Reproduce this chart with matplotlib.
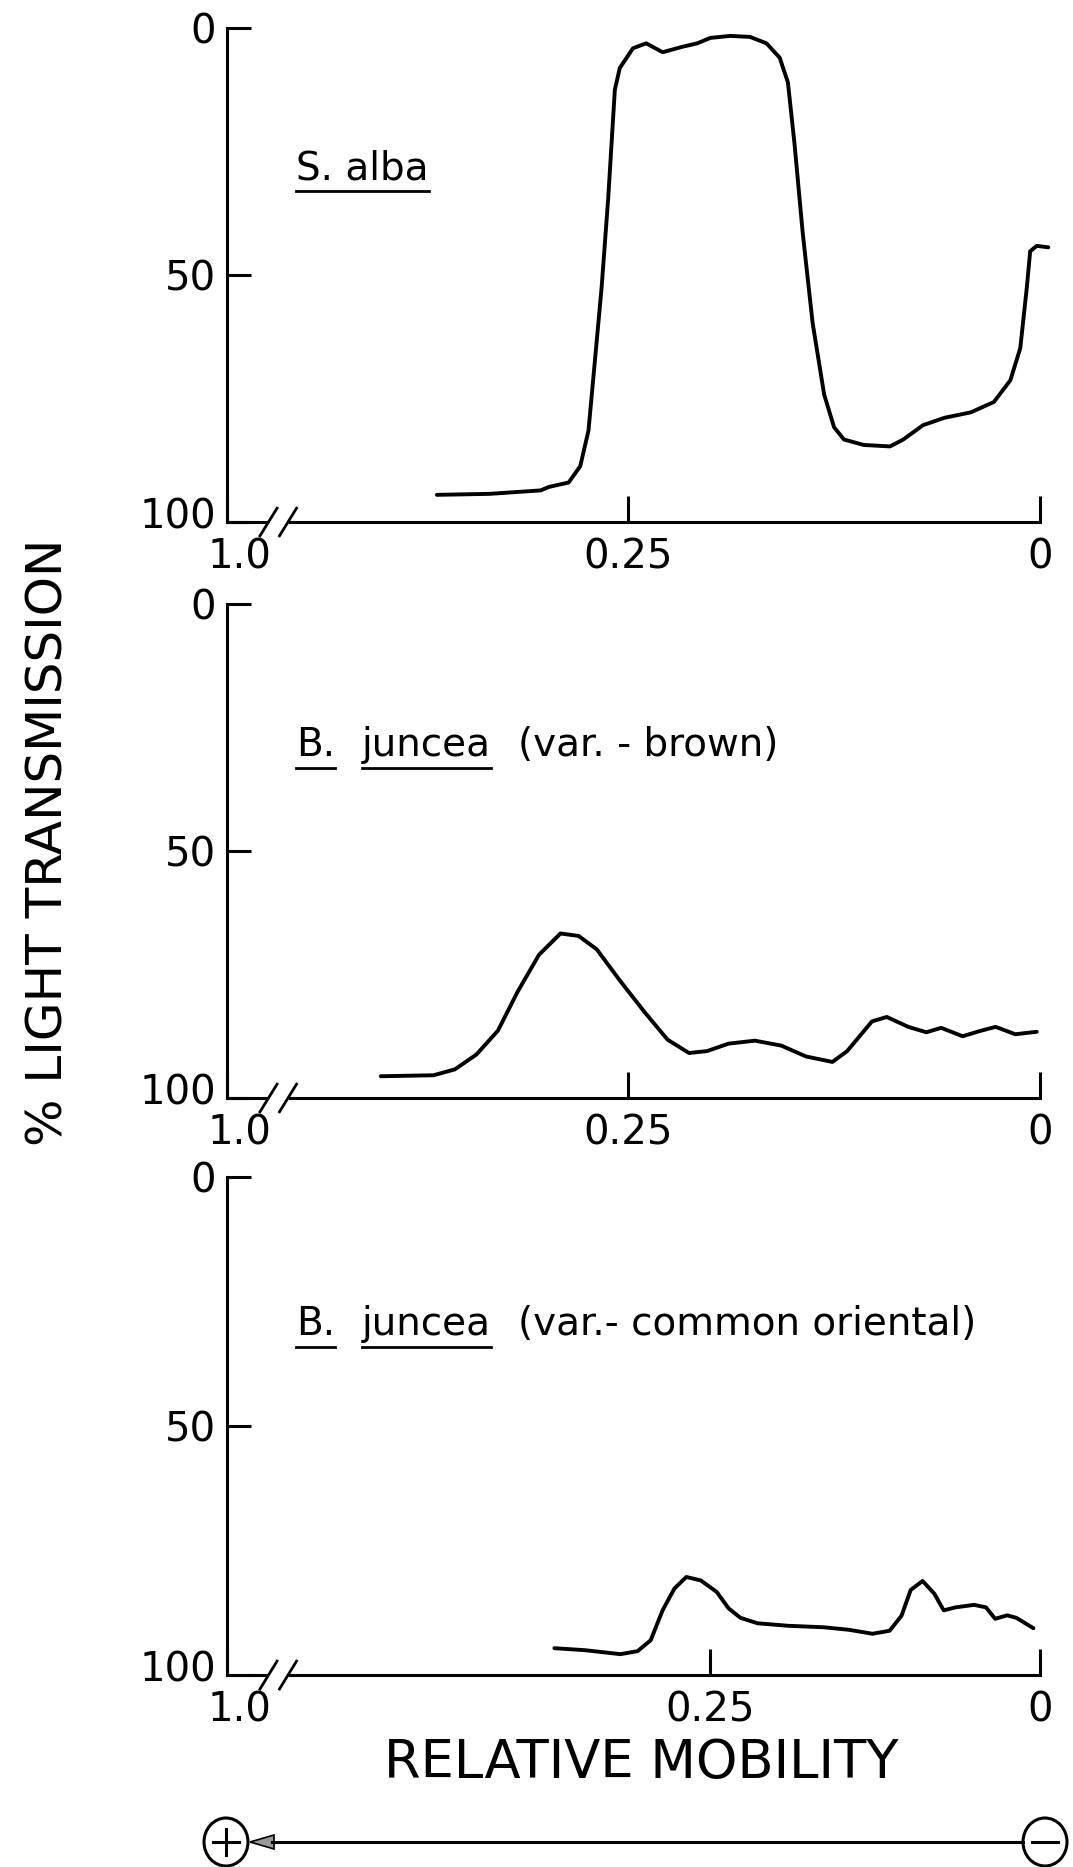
import matplotlib
matplotlib.use("Agg")
from matplotlib import pyplot as plt
import matplotlib.transforms as mtransforms
from matplotlib.patches import Ellipse, Polygon

plt.rcParams['font.family'] = ['DejaVu Sans']

# S. alba
alba_mob = [0.366, 0.334, 0.303, 0.298, 0.286, 0.279, 0.274, 0.270, 0.266, 0.262,
            0.258, 0.255, 0.247, 0.239, 0.229, 0.217, 0.208, 0.200, 0.188, 0.176,
            0.166, 0.158, 0.153, 0.149, 0.144, 0.138, 0.131, 0.125, 0.119, 0.107,
            0.091, 0.083, 0.071, 0.058, 0.042, 0.028, 0.018, 0.012, 0.008, 0.006,
            0.002, -0.005]
alba_trans = [94.5, 94.3, 93.6, 92.9, 92.0, 88.7, 81.5, 67.0, 52.4, 34.3,
              12.5, 8.1, 4.1, 3.1, 4.9, 3.8, 3.1, 2.0, 1.6, 1.8,
              3.1, 6.0, 11.0, 23.4, 41.5, 59.7, 74.2, 80.8, 83.3, 84.4,
              84.7, 83.3, 80.4, 78.9, 77.8, 75.7, 71.3, 64.8, 52.4, 45.2,
              44.1, 44.4]

# B. juncea (var. - brown)
brown_mob = [0.400, 0.368, 0.355, 0.342, 0.329, 0.317, 0.304, 0.291, 0.280, 0.269,
             0.255, 0.240, 0.226, 0.213, 0.202, 0.189, 0.173, 0.157, 0.142, 0.126,
             0.117, 0.102, 0.093, 0.080, 0.069, 0.060, 0.047, 0.036, 0.027, 0.015,
             0.002]
brown_trans = [95.6, 95.4, 94.2, 91.2, 86.4, 78.5, 71.0, 66.7, 67.2, 69.9,
               76.2, 82.6, 88.2, 90.9, 90.5, 89.0, 88.4, 89.4, 91.6, 92.7,
               90.5, 84.5, 83.6, 85.6, 86.7, 85.8, 87.5, 86.4, 85.6, 87.1,
               86.6]

# B. juncea (var. - common oriental)
orient_mob = [0.368, 0.345, 0.318, 0.305, 0.295, 0.286, 0.277, 0.268, 0.257, 0.245,
              0.236, 0.227, 0.214, 0.191, 0.164, 0.145, 0.127, 0.114, 0.105, 0.098,
              0.089, 0.080, 0.073, 0.064, 0.050, 0.041, 0.034, 0.025, 0.018, 0.005]
orient_trans = [94.6, 95.0, 95.8, 95.2, 93.0, 87.0, 82.6, 80.3, 81.0, 83.3,
                86.6, 88.5, 89.6, 90.1, 90.4, 90.9, 91.7, 91.1, 88.1, 82.9,
                81.1, 83.7, 87.0, 86.4, 85.9, 86.4, 88.7, 88.0, 88.5, 90.6]

y_ticks = [0, 50, 100]
y_labels = ['0', '50', '100']
x_tick_labels = ['1.0', '0.25', '0']
left_limits = [0.4933, 0.4933, 0.616]   # axis is broken, left end is labelled 1.0

fig = plt.figure(figsize=(10.73, 18.67), dpi=100)

panels = [
    (alba_mob, alba_trans, [0.7204, 0.2646], 0.716, [('S. alba', True)]),
    (brown_mob, brown_trans, [0.4119, 0.2646], 0.714,
     [('B.', True), ('juncea', True), ('(var. - brown)', False)]),
    (orient_mob, orient_trans, [0.1028, 0.2667], 0.706,
     [('B.', True), ('juncea', True), ('(var.- common oriental)', False)]),
]
label_x = [0.085, 0.166, 0.358]

axes = []
for (mob, trans, (bottom, height), ty, pieces), xl in zip(panels, left_limits):
    ax = fig.add_axes([0.2116, bottom, 0.7577, height])
    ax.plot(mob, trans, color='black', lw=2.8, clip_on=False,
            solid_capstyle='round', solid_joinstyle='round')
    ax.set_xlim(xl, 0)
    ax.set_ylim(100, 0)
    ax.set_yticks(y_ticks)
    ax.set_yticklabels(y_labels)
    ax.set_xticks([xl, 0.25, 0])
    ax.set_xticklabels(x_tick_labels)
    for s in ['top', 'right', 'bottom']:
        ax.spines[s].set_visible(False)
    ax.spines['left'].set_linewidth(2.2)
    ax.tick_params(direction='in', width=2.2, labelsize=29)
    ax.tick_params(axis='y', length=17, pad=8)
    ax.tick_params(axis='x', length=19, pad=11)
    # nudge "100" up and "1.0" right so they sit like the original
    lab = ax.get_yticklabels()[2]
    lab.set_transform(lab.get_transform() + mtransforms.ScaledTranslation(0, 0.09, fig.dpi_scale_trans))
    lab = ax.get_xticklabels()[0]
    lab.set_transform(lab.get_transform() + mtransforms.ScaledTranslation(0.12, 0, fig.dpi_scale_trans))
    # x axis drawn by hand, with the break
    ax.plot([0, 0.049], [0, 0], transform=ax.transAxes, color='black', lw=2.2, clip_on=False)
    ax.plot([0.0775, 1], [0, 0], transform=ax.transAxes, color='black', lw=2.2, clip_on=False)
    for c in [0.051, 0.075]:
        ax.plot([c - 0.0105, c + 0.0105], [-0.028, 0.028], transform=ax.transAxes,
                color='black', lw=2.0, clip_on=False)
    texts = []
    for (s, ul), lx in zip(pieces, label_x):
        t = ax.text(lx, ty, s, transform=ax.transAxes, fontsize=28, va='center', ha='left')
        texts.append((t, ul))
    axes.append((ax, texts))

fig.text(0.045, 0.549, '% LIGHT TRANSMISSION', rotation=90, fontsize=36,
         va='center', ha='center')
fig.text(0.598, 0.0557, 'RELATIVE MOBILITY', fontsize=38, va='center', ha='center')

# underlines under the species names
fig.canvas.draw()
r = fig.canvas.get_renderer()
inv = fig.transFigure.inverted()
for ax, texts in axes:
    base = texts[0][0].get_window_extent(r).y0
    for t, ul in texts:
        if not ul:
            continue
        bb = t.get_window_extent(r)
        (x0, y0), (x1, _) = inv.transform([(bb.x0, base - 4), (bb.x1, base - 4)])
        fig.add_artist(plt.Line2D([x0, x1], [y0, y0], color='black', lw=2.0))

# electrophoresis direction arrow
ov = fig.add_axes([0, 0, 1, 1], facecolor='none')
ov.set_xlim(0, 1073)
ov.set_ylim(1867, 0)
ov.axis('off')
ov.add_patch(Ellipse((226, 1842), 44, 48, fill=False, lw=2.2, ec='black'))
ov.add_patch(Ellipse((1045, 1842), 44, 48, fill=False, lw=2.2, ec='black'))
ov.plot([213, 239], [1842, 1842], color='black', lw=2.2)
ov.plot([226, 226], [1829, 1855], color='black', lw=2.2)
ov.plot([1032, 1058], [1842, 1842], color='black', lw=2.2)
ov.plot([272, 1023], [1842, 1842], color='black', lw=2.2)
ov.add_patch(Polygon([[250, 1842], [274, 1835], [274, 1849]], closed=True,
                     fc='#999999', ec='black', lw=1.2))

fig.savefig('out.png', dpi=100)
